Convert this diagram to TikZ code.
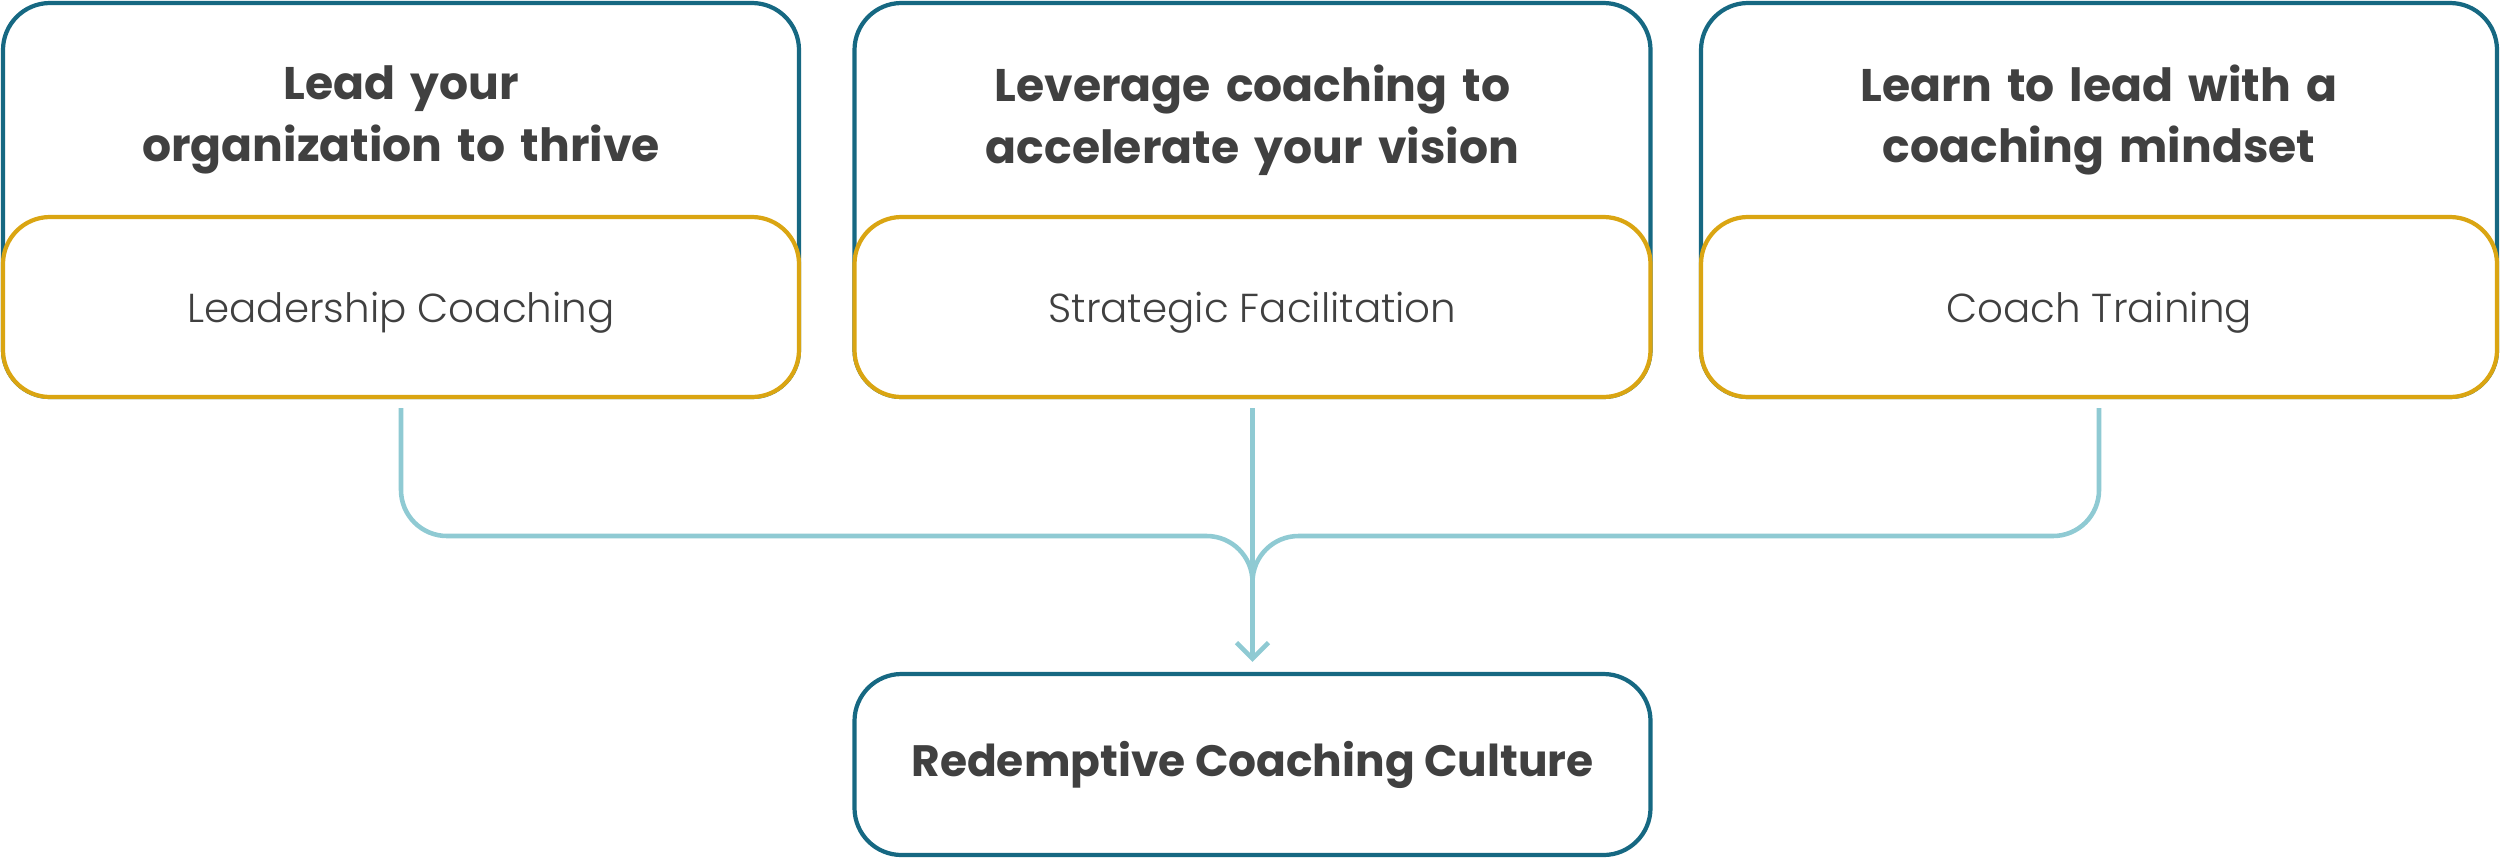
\documentclass[tikz,border=0pt]{standalone}
\usepackage{fontspec}
\setmainfont{Poppins}
\newfontfamily\lightfont{Poppins Light}
\usetikzlibrary{arrows.meta,calc}

\definecolor{tealblue}{RGB}{22,104,130}
\definecolor{gold}{RGB}{218,165,18}
\definecolor{linkblue}{RGB}{143,202,211}
\definecolor{ink}{RGB}{64,64,64}

\tikzset{
  outerbox/.style={draw=tealblue, line width=1.2pt, rounded corners=0.47cm,
    minimum width=7.96cm, minimum height=3.94cm, inner sep=0pt},
  innerbox/.style={draw=gold, fill=white, line width=1.2pt, rounded corners=0.47cm,
    minimum width=7.96cm, minimum height=1.80cm, inner sep=0pt, text depth=0pt,
    text=ink, font=\lightfont\fontsize{11.5}{14}\selectfont},
  heading/.style={text width=7.8cm, align=center, text=ink,
    font=\bfseries\fontsize{13}{17.6}\selectfont},
  rootbox/.style={draw=tealblue, line width=1.2pt, rounded corners=0.47cm,
    minimum width=7.96cm, minimum height=1.81cm, inner sep=0pt,
    text=ink, font=\bfseries\fontsize{12.5}{14}\selectfont},
  link/.style={draw=linkblue, line width=1.3pt}
}

\begin{document}
\begin{tikzpicture}
  \useasboundingbox (0,0) rectangle (25,-8.57);

  % ========== Leadership Coaching ==========
  \node[outerbox] (lo) at (4.01,-2.00) {};
  \node[innerbox] (lc) at (4.01,-3.07) {Leadership Coaching};
  \node[heading] (lt) at (4.01,-1.20) {Lead your\\organization to thrive};

  % ========== Strategic Facilitation ==========
  \node[outerbox] (so) at (12.525,-2.00) {};
  \node[innerbox] (sc) at (12.525,-3.07) {Strategic Facilitation};
  \node[heading] (st) at (12.525,-1.20) {Leverage coaching to\\accelerate your vision};

  % ========== Coach Training ==========
  \node[outerbox] (co) at (20.99,-2.00) {};
  \node[innerbox] (cc) at (20.99,-3.07) {Coach Training};
  \node[heading] (ct) at (20.99,-1.20) {Learn to lead with a\\coaching mindset};

  % ========== Culture ==========
  \node[rootbox] (rc) at (12.525,-7.645) {Redemptive Coaching Culture};

  % connectors
  \coordinate (hubl) at (12.065,-5.36);
  \coordinate (hubr) at (12.985,-5.36);
  \coordinate (lbend) at ($(lc.south |- hubl)+(0,0.46)$);
  \coordinate (rbend) at ($(cc.south |- hubr)+(0,0.46)$);
  \draw[link] ([yshift=-0.09cm]lc.south) -- (lbend)
    arc[start angle=180, end angle=270, radius=0.46cm] -- (hubl)
    arc[start angle=90, end angle=0, radius=0.46cm];
  \draw[link] ([yshift=-0.09cm]cc.south) -- (rbend)
    arc[start angle=0, end angle=-90, radius=0.46cm] -- (hubr)
    arc[start angle=90, end angle=180, radius=0.46cm];
  \draw[link, -{Straight Barb[length=0.16cm, width=0.32cm]}]
    ([yshift=-0.09cm]sc.south) -- ([yshift=0.10cm]rc.north);

\end{tikzpicture}
\end{document}
